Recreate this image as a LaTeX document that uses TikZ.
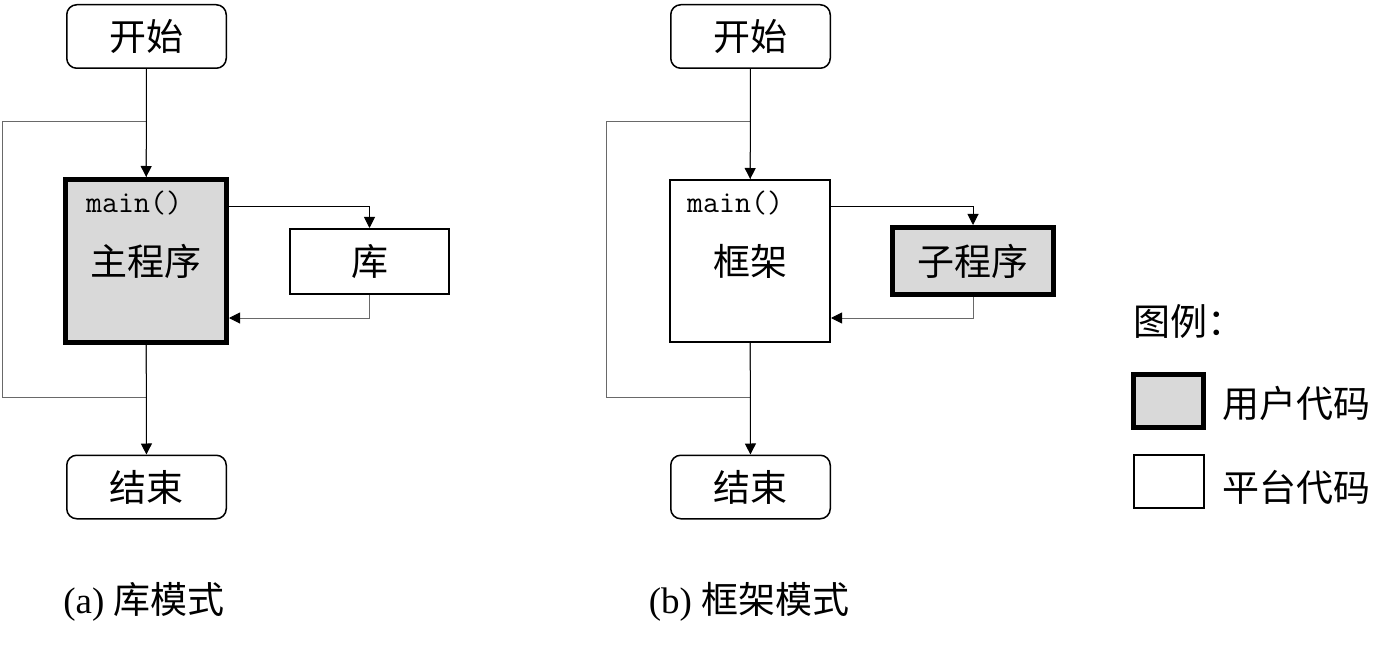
\documentclass[tikz,border=0pt]{standalone}
\usepackage{fontspec}
\setmainfont{Liberation Serif}
\newfontfamily\cjk{Noto Sans CJK SC}
\usetikzlibrary{positioning,arrows.meta}
\definecolor{usergray}{RGB}{217,217,217}
\definecolor{linegray}{RGB}{105,105,105}
\tikzset{
  bigtext/.style={font=\fontsize{37}{40}\selectfont\cjk},
  terminal/.style={draw, line width=1.5pt, rounded corners=10pt, minimum width=159.5pt, minimum height=63.5pt, bigtext},
  usercode/.style={draw, line width=5pt, fill=usergray, bigtext},
  platcode/.style={draw, line width=2pt, bigtext},
  fnname/.style={font=\fontsize{31}{34}\selectfont\ttfamily, inner sep=0pt, anchor=base west},
  flow/.style={line width=1pt, -{Triangle[length=11pt,width=11pt]}},
  backflow/.style={line width=1pt, draw=linegray, -{Triangle[length=11pt,width=11pt,color=black]}},
  loopline/.style={line width=1pt, draw=linegray},
}
\begin{document}
\begin{tikzpicture}[x=1pt, y=-1pt]
  \useasboundingbox (0,0) rectangle (1395,647);

  % (a) library mode
  \node[terminal] (startA) at (146.5,36.5) {开始};
  \node[usercode, minimum width=161pt, minimum height=163pt] (progA) at (146,261) {主程序};
  \node[fnname] (mainA) at (86,213) {main()};
  \node[platcode, minimum width=159pt, minimum height=65pt] (libA) at (369.5,261.5) {库};
  \node[terminal] (endA) at (146.5,487) {结束};
  \node[bigtext, font=\fontsize{37}{40}\selectfont] (capA) at (144,602) {(a) {\cjk 库模式}};
  \coordinate (loopAtop) at (2,122);
  \coordinate (loopAbot) at (2,397);

  \draw[loopline] (progA.south) |- (loopAbot) -- (loopAtop) -| (progA.north);
  \draw[flow] (startA) -- (progA);
  \draw[flow] (progA) -- (endA);
  \draw[flow] ([yshift=-30pt]progA.north east) -| (libA.north);
  \draw[backflow] (libA.south) |- ([yshift=27pt]progA.south east);

  % (b) framework mode
  \node[terminal] (startB) at (750.5,36.5) {开始};
  \node[platcode, minimum width=160pt, minimum height=162pt] (frameB) at (750,261) {框架};
  \node[fnname] (mainB) at (687,213) {main()};
  \node[usercode, minimum width=161pt, minimum height=67pt] (subB) at (973,261) {子程序};
  \node[terminal] (endB) at (750.5,487) {结束};
  \node[bigtext, font=\fontsize{37}{40}\selectfont] (capB) at (749,602) {(b) {\cjk 框架模式}};
  \coordinate (loopBtop) at (606,122);
  \coordinate (loopBbot) at (606,397);

  \draw[loopline] (frameB.south) |- (loopBbot) -- (loopBtop) -| (frameB.north);
  \draw[flow] (startB) -- (frameB);
  \draw[flow] (frameB) -- (endB);
  \draw[flow] ([yshift=-28pt]frameB.north east) -| (subB.north);
  \draw[backflow] (subB.south) |- ([yshift=25pt]frameB.south east);

  % legend
  \node[bigtext, anchor=west, inner sep=0pt] (legend) at (1133,321) {图例：};
  \node[usercode, minimum width=70pt, minimum height=53pt] (keyUser) at (1168.5,401) {};
  \node[bigtext, anchor=west, inner sep=0pt] (txtUser) at (1222,403) {用户代码};
  \node[platcode, minimum width=70pt, minimum height=53pt] (keyPlat) at (1169,481.5) {};
  \node[bigtext, anchor=west, inner sep=0pt] (txtPlat) at (1222,487) {平台代码};
\end{tikzpicture}
\end{document}
